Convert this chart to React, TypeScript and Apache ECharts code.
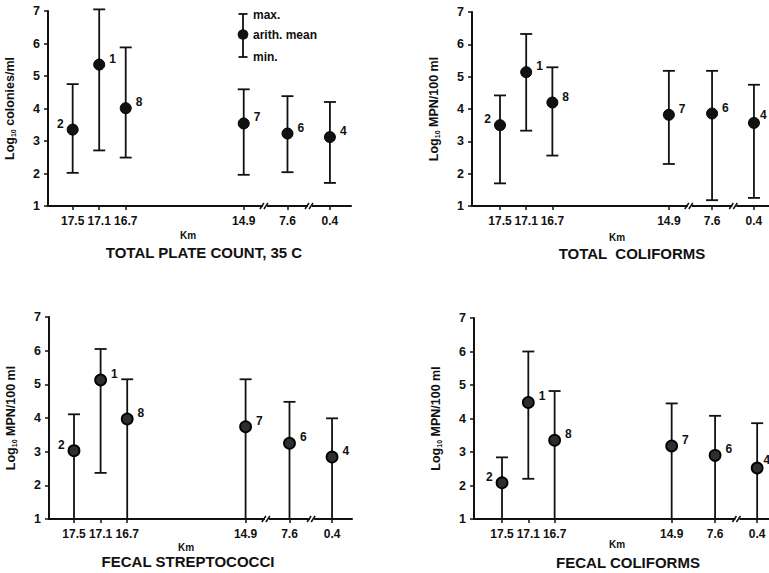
import React, { useEffect, useRef } from 'react';
import * as echarts from 'echarts';

// Stations along the river (km) and their station numbers
const kmLabels = ['17.5', '17.1', '16.7', '14.9', '7.6', '0.4'];
const stationNumbers = ['2', '1', '8', '7', '6', '4'];
// slot of each station on the broken km axis
const kmSlots = [0, 2, 4, 12.9, 16.2, 19.4];
const yMin = 1;
const yMax = 7;

// TOTAL PLATE COUNT, 35 C  (log10 colonies/ml)
const tpcMean = [3.35, 5.35, 4.01, 3.54, 3.23, 3.12];
const tpcMax = [4.75, 7.05, 5.88, 4.59, 4.38, 4.2];
const tpcMin = [2.02, 2.71, 2.49, 1.96, 2.04, 1.71];

// TOTAL COLIFORMS (log10 MPN/100 ml)
const tcMean = [3.5, 5.14, 4.2, 3.82, 3.86, 3.57];
const tcMax = [4.42, 6.32, 5.29, 5.18, 5.18, 4.75];
const tcMin = [1.7, 3.33, 2.56, 2.3, 1.18, 1.25];

// FECAL STREPTOCOCCI (log10 MPN/100 ml)
const fsMean = [3.03, 5.13, 3.97, 3.74, 3.25, 2.84];
const fsMax = [4.11, 6.05, 5.15, 5.15, 4.48, 3.99];
const fsMin = [1, 2.37, 1, 1, 1, 1];

// FECAL COLIFORMS (log10 MPN/100 ml)
const fcMean = [2.08, 4.48, 3.35, 3.18, 2.9, 2.52];
const fcMax = [2.84, 6.0, 4.82, 4.45, 4.08, 3.86];
const fcMin = [1, 2.2, 1, 1, 1, 1];

// axis break marks (slot positions)
const breaksThree = [14.5, 17.9];
const breaksFC = [17.9];

const FONT = "'Liberation Sans', Arial, sans-serif";
const INK = '#111';

const panels = [
  { title: 'TOTAL PLATE COUNT, 35 C', unit: ' colonies/ml', mean: tpcMean, max: tpcMax, min: tpcMin, breaks: breaksThree, ringed: false },
  { title: 'TOTAL  COLIFORMS', unit: ' MPN/100 ml', mean: tcMean, max: tcMax, min: tcMin, breaks: breaksThree, ringed: false },
  { title: 'FECAL STREPTOCOCCI', unit: ' MPN/100 ml', mean: fsMean, max: fsMax, min: fsMin, breaks: breaksThree, ringed: true },
  { title: 'FECAL COLIFORMS', unit: ' MPN/100 ml', mean: fcMean, max: fcMax, min: fcMin, breaks: breaksFC, ringed: true },
];

const layout = [
  { grid: { left: 48, top: 11, width: 303, height: 195 }, x: [-1.86, 20.99], km: [188, 235], title: [204, 252], atEdge: false },
  { grid: { left: 472, top: 12, width: 297, height: 194 }, x: [-2.14, 20.55], km: [617, 237], title: [632, 253], atEdge: true },
  { grid: { left: 49, top: 317, width: 303, height: 202 }, x: [-1.88, 20.9], km: [186, 547], title: [188, 561], atEdge: false },
  { grid: { left: 474, top: 318, width: 295, height: 201 }, x: [-2.13, 20.3], km: [617, 544], title: [628, 562], atEdge: true },
];

function kmFormatter(v: number) {
  let best = 0;
  for (let i = 1; i < kmSlots.length; i++) {
    if (Math.abs(kmSlots[i] - v) < Math.abs(kmSlots[best] - v)) best = i;
  }
  return kmLabels[best];
}

function buildOption() {
  const grid: any[] = [];
  const xAxis: any[] = [];
  const yAxis: any[] = [];
  const series: any[] = [];
  const graphic: any[] = [];

  panels.forEach((p, k) => {
    const L = layout[k];
    grid.push({ ...L.grid, containLabel: false });
    xAxis.push({
      type: 'value',
      gridIndex: k,
      min: L.x[0],
      max: L.x[1],
      splitLine: { show: false },
      axisLine: { show: true, onZero: false, lineStyle: { color: INK, width: 2 } },
      axisTick: { show: true, customValues: kmSlots, length: 4, lineStyle: { color: INK, width: 1.5 } },
      axisLabel: {
        customValues: kmSlots,
        formatter: kmFormatter,
        margin: 9,
        fontSize: 12,
        fontWeight: 'bold',
        fontFamily: FONT,
        color: INK,
      },
    });
    yAxis.push({
      type: 'value',
      gridIndex: k,
      min: yMin,
      max: yMax,
      interval: 1,
      splitLine: { show: false },
      axisLine: { show: true, onZero: false, lineStyle: { color: INK, width: 2 } },
      axisTick: { show: true, length: 4, lineStyle: { color: INK, width: 1.5 } },
      axisLabel: { margin: 8, fontSize: 12.5, fontWeight: 'bold', fontFamily: FONT, color: INK },
      name: '{a|Log}{s|10}{a|' + p.unit + '}',
      nameLocation: 'middle',
      nameRotate: 90,
      nameGap: 31,
      nameTextStyle: {
        rich: {
          a: { fontSize: 12.5, fontWeight: 'bold', fontFamily: FONT, color: INK, lineHeight: 14 },
          s: { fontSize: 7, fontWeight: 'bold', fontFamily: FONT, color: INK, lineHeight: 14, verticalAlign: 'bottom' },
        },
      },
    });

    // min–max bars
    series.push({
      type: 'custom',
      xAxisIndex: k,
      yAxisIndex: k,
      z: 2,
      data: kmSlots.map((s, i) => [s, p.min[i], p.max[i]]),
      renderItem: (params: any, api: any) => {
        const x = api.value(0);
        const lo = api.value(1);
        const hi = api.value(2);
        const t = api.coord([x, hi]);
        const b = api.coord([x, lo]);
        const st = { stroke: INK, lineWidth: 1.8 };
        const children: any[] = [
          { type: 'line', shape: { x1: t[0], y1: t[1], x2: b[0], y2: b[1] }, style: st },
          { type: 'line', shape: { x1: t[0] - 6, y1: t[1], x2: t[0] + 6, y2: t[1] }, style: st },
        ];
        if (lo > yMin) {
          children.push({ type: 'line', shape: { x1: b[0] - 6, y1: b[1], x2: b[0] + 6, y2: b[1] }, style: st });
        }
        return { type: 'group', children };
      },
    });

    // arithmetic means
    series.push({
      type: 'scatter',
      xAxisIndex: k,
      yAxisIndex: k,
      z: 4,
      symbol: 'circle',
      symbolSize: 11,
      itemStyle: p.ringed
        ? { color: '#2e2e2e', borderColor: '#000', borderWidth: 1.8, opacity: 1 }
        : { color: '#111', borderColor: '#000', borderWidth: 1, opacity: 1 },
      data: kmSlots.map((s, i) => {
        const last = i === kmSlots.length - 1 && L.atEdge;
        return {
          value: [s, p.mean[i]],
          label: {
            show: true,
            formatter: stationNumbers[i],
            position: i === 0 ? 'left' : 'right',
            distance: last ? 1 : 3,
            offset: i === 0 ? [0, -6] : last ? [-1, -8] : [1, -6],
            fontSize: 12,
            fontWeight: 'bold',
            fontFamily: FONT,
            color: INK,
            opacity: 1,
          },
        };
      }),
    });

    // axis break marks
    series.push({
      type: 'custom',
      xAxisIndex: k,
      yAxisIndex: k,
      z: 5,
      data: p.breaks.map((b) => [b, yMin]),
      renderItem: (params: any, api: any) => {
        const c = api.coord([api.value(0), api.value(1)]);
        const st = { stroke: INK, lineWidth: 1.5 };
        return {
          type: 'group',
          children: [
            { type: 'rect', shape: { x: c[0] - 2, y: c[1] - 2, width: 4, height: 4 }, style: { fill: '#fff' } },
            { type: 'line', shape: { x1: c[0] - 5, y1: c[1] + 3, x2: c[0] - 1, y2: c[1] - 3 }, style: st },
            { type: 'line', shape: { x1: c[0] - 1, y1: c[1] + 3, x2: c[0] + 3, y2: c[1] - 3 }, style: st },
          ],
        };
      },
    });

    graphic.push({
      type: 'text',
      x: L.km[0],
      y: L.km[1],
      style: { text: 'Km', font: `bold 10px ${FONT}`, fill: INK, textAlign: 'center', textVerticalAlign: 'middle' },
    });
    graphic.push({
      type: 'text',
      x: L.title[0],
      y: L.title[1],
      style: { text: p.title, font: `bold 15px ${FONT}`, fill: INK, textAlign: 'center', textVerticalAlign: 'middle' },
    });
  });

  // key in the first panel
  const kx = 243;
  const kst = { stroke: INK, lineWidth: 1.8 };
  graphic.push(
    { type: 'line', shape: { x1: kx, y1: 14, x2: kx, y2: 57 }, style: kst },
    { type: 'line', shape: { x1: kx - 4.5, y1: 14, x2: kx + 4.5, y2: 14 }, style: kst },
    { type: 'line', shape: { x1: kx - 4.5, y1: 57, x2: kx + 4.5, y2: 57 }, style: kst },
    { type: 'circle', shape: { cx: kx, cy: 34.5, r: 5.3 }, style: { fill: '#111' } },
    { type: 'text', x: 253, y: 15, style: { text: 'max.', font: `bold 12px ${FONT}`, fill: INK, textVerticalAlign: 'middle' } },
    { type: 'text', x: 253, y: 35, style: { text: 'arith. mean', font: `bold 12px ${FONT}`, fill: INK, textVerticalAlign: 'middle' } },
    { type: 'text', x: 253, y: 57, style: { text: 'min.', font: `bold 12px ${FONT}`, fill: INK, textVerticalAlign: 'middle' } },
  );

  return {
    animation: false,
    backgroundColor: '#fff',
    grid,
    xAxis,
    yAxis,
    series,
    graphic,
  };
}

export default function App() {
  const ref = useRef<HTMLDivElement>(null);
  useEffect(() => {
    if (!ref.current) return;
    const chart = echarts.init(ref.current, null, { renderer: 'svg' });
    chart.setOption(buildOption() as any);
    return () => chart.dispose();
  }, []);
  return (
    <div
      ref={ref}
      style={{ position: 'fixed', left: 0, top: 0, width: 769, height: 573, background: '#fff' }}
    />
  );
}
